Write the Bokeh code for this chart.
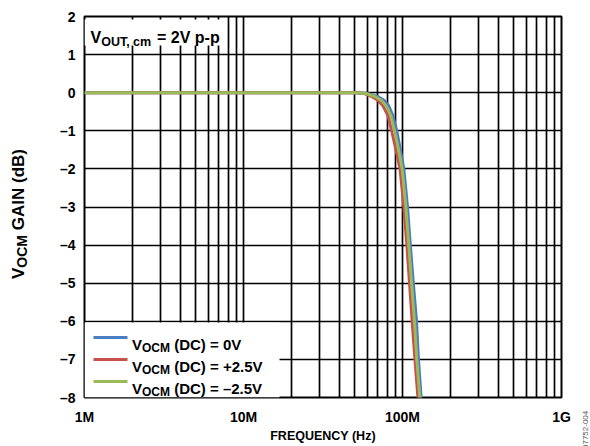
import math

from bokeh.embed import file_html
from bokeh.layouts import row
from bokeh.models import (Arrow, BoxAnnotation, CustomJSTickFormatter, Div, FixedTicker,
                          Label, Range1d)
from bokeh.plotting import figure
from bokeh.resources import INLINE

# ---------------- data ----------------
x_tick_values = [1e6, 1e7, 1e8, 1e9]
x_tick_labels = ["1M", "10M", "100M", "1G"]
x_minor_ticks = [m * 10 ** e for e in (6, 7, 8) for m in range(2, 10)]

y_tick_values = [-8, -7, -6, -5, -4, -3, -2, -1, 0, 1, 2]
y_tick_labels = ["–8", "–7", "–6", "–5", "–4", "–3", "–2", "–1", "0", "1", "2"]

# VOCM (DC) = 0V
freq_0v = [1e6, 10e6, 30e6, 50e6, 60e6, 70e6, 76.6e6, 82e6, 87e6, 92e6, 97e6,
           102e6, 107.5e6, 112e6, 117e6, 122.5e6, 126e6, 131e6, 134e6]
gain_0v = [0, 0, 0, 0, -0.02, -0.1, -0.2, -0.35, -0.6, -1.0, -1.5,
           -2.0, -3.0, -4.0, -5.0, -6.0, -7.0, -8.0, -8.6]

# VOCM (DC) = +2.5V
freq_p25 = [1e6, 10e6, 30e6, 50e6, 57e6, 64e6, 70e6, 75.5e6, 81e6, 85.5e6, 91e6,
            96.5e6, 102e6, 106.5e6, 110.7e6, 115e6, 119.7e6, 125e6, 128e6]
gain_p25 = [0, 0, 0, 0, -0.02, -0.1, -0.2, -0.35, -0.6, -1.0, -1.5,
            -2.0, -3.0, -4.0, -5.0, -6.0, -7.0, -8.0, -8.6]

# VOCM (DC) = -2.5V
freq_m25 = [1e6, 10e6, 30e6, 50e6, 59e6, 67e6, 73.5e6, 79e6, 84.5e6, 89e6, 94.5e6,
            99.5e6, 105e6, 109.5e6, 114e6, 119e6, 123e6, 128.5e6, 131.5e6]
gain_m25 = [0, 0, 0, 0, -0.02, -0.1, -0.2, -0.35, -0.6, -1.0, -1.5,
            -2.0, -3.0, -4.0, -5.0, -6.0, -7.0, -8.0, -8.6]

series_labels = [" (DC) = 0V", " (DC) = +2.5V", " (DC) = –2.5V"]
series_colors = ["#4a7dc2", "#c8504d", "#9bbb59"]
figure_code = "07752-004"

# ---------------- page geometry (px) ----------------
W, H = 590, 446
FL, FR, FT, FB = 84, 561, 16, 397   # plot frame edges on the page
LEFT_W = 40                         # strip holding the rotated y title
RIGHT_W = 12                        # strip holding the figure code
MAIN_W = W - LEFT_W - RIGHT_W

FONT = "Liberation Sans"

p = figure(width=MAIN_W, height=H, x_axis_type="log",
           x_range=Range1d(1e6, 1e9), y_range=Range1d(-8, 2),
           output_backend="svg", toolbar_location=None, title=None,
           min_border_left=FL - LEFT_W, min_border_right=LEFT_W + MAIN_W - FR,
           min_border_top=FT, min_border_bottom=H - FB)

p.outline_line_color = "black"
p.outline_line_width = 2
p.background_fill_color = "white"
p.border_fill_color = "white"

p.xaxis.ticker = FixedTicker(ticks=x_tick_values, minor_ticks=x_minor_ticks)
p.xaxis.formatter = CustomJSTickFormatter(
    args=dict(vals=x_tick_values, labs=x_tick_labels),
    code="""
const i = vals.findIndex(v => Math.abs(Math.log10(v) - Math.log10(tick)) < 1e-6);
return i >= 0 ? labs[i] : "";
""")
p.yaxis.ticker = FixedTicker(ticks=y_tick_values)
p.yaxis.formatter = CustomJSTickFormatter(
    args=dict(vals=y_tick_values, labs=y_tick_labels),
    code="""
const i = vals.findIndex(v => Math.abs(v - tick) < 1e-6);
return i >= 0 ? labs[i] : "";
""")

for ax in (p.xaxis, p.yaxis):
    ax.axis_line_color = None
    ax.major_tick_in = 0
    ax.major_tick_out = 0
    ax.minor_tick_in = 0
    ax.minor_tick_out = 0
    ax.major_label_text_font = FONT
    ax.major_label_text_font_style = "bold"
    ax.major_label_text_font_size = "14px"
    ax.major_label_text_color = "black"
p.xaxis.major_label_standoff = 11
p.yaxis.major_label_standoff = 9

p.xaxis.axis_label = "FREQUENCY (Hz)"
p.xaxis.axis_label_text_font = FONT
p.xaxis.axis_label_text_font_style = "bold"
p.xaxis.axis_label_text_font_size = "12.5px"
p.xaxis.axis_label_text_color = "black"
p.xaxis.axis_label_standoff = 1

p.xgrid.grid_line_color = "black"
p.xgrid.grid_line_width = 1.7
p.xgrid.minor_grid_line_color = "black"
p.xgrid.minor_grid_line_width = 1.7
p.ygrid.grid_line_color = "black"
p.ygrid.grid_line_width = 1.7

# ---------------- curves ----------------
for fx_, gy_, col in ((freq_0v, gain_0v, series_colors[0]),
                      (freq_p25, gain_p25, series_colors[1]),
                      (freq_m25, gain_m25, series_colors[2])):
    p.line(fx_, gy_, line_color=col, line_width=3, line_join="round")


# ---------------- text helpers ----------------
def dx(px):
    return 10 ** (6 + 3 * (px - FL) / (FR - FL))


def dy(py):
    return 2 - 10 * (py - FT) / (FB - FT)


ADV = {' ': 278, '(': 333, ')': 333, ',': 278, '-': 333, '.': 278, '=': 584,
       '+': 584, '–': 556, 'A': 722, 'B': 722, 'C': 722, 'D': 722, 'E': 667,
       'F': 611, 'G': 778, 'H': 722, 'I': 278, 'M': 833, 'N': 722, 'O': 778,
       'Q': 778, 'R': 722, 'T': 611, 'U': 722, 'V': 667, 'Y': 667, 'c': 556,
       'd': 611, 'm': 889, 'p': 611, 'z': 500}


def text_width(s, size):
    return sum(ADV.get(ch, 556) for ch in s) * size / 1000.0


def styled(target, lab, size, bold=True, color="black", align="left"):
    lab.text_font = FONT
    lab.text_font_style = "bold" if bold else "normal"
    lab.text_font_size = f"{size}px"
    lab.text_color = color
    lab.text_align = align
    lab.text_baseline = "alphabetic"
    target.add_layout(lab)


def rich_text(target, pieces, px, py, to_x, to_y, rotated=False):
    """Draw a run of bold text pieces (text, size, drop) one after another."""
    for txt, size, drop in pieces:
        lead = len(txt) - len(txt.lstrip(" "))
        adv0 = text_width(" " * lead, size)
        txt = txt.lstrip(" ")
        if rotated:
            py -= adv0
            cx, cy = px + drop, py
            py -= text_width(txt, size)
        else:
            px += adv0
            cx, cy = px, py + drop
            px += text_width(txt, size)
        lab = Label(x=to_x(cx), y=to_y(cy), text=txt)
        if rotated:
            lab.angle = math.pi / 2
        styled(target, lab, size)


# condition box, top left
p.add_layout(BoxAnnotation(left=dx(FL), right=dx(223), top=dy(19), bottom=dy(45),
                           fill_color="white", fill_alpha=1, line_color=None))
rich_text(p, [("V", 16, 0), ("OUT, cm", 12.5, 4), (" = 2V p-p", 16, 0)],
          90, 37, dx, dy)

# legend, bottom left
p.add_layout(BoxAnnotation(left=dx(FL), right=dx(279), top=dy(322), bottom=dy(FB),
                           fill_color="white", fill_alpha=1, line_color=None))
for i, (lbl, col) in enumerate(zip(series_labels, series_colors)):
    ly = 337 + 22 * i
    p.add_layout(Arrow(x_start=dx(93), y_start=dy(ly), x_end=dx(127), y_end=dy(ly),
                       end=None, line_color=col, line_width=3))
    rich_text(p, [("V", 15, 0), ("OCM", 12, 3.5), (lbl, 15, 0)], 131.5, ly + 6.5, dx, dy)

# y-axis title (rotated) in a bare left panel; the row lines its frame up with
# the main frame, so its data space is the page's pixel grid between FT and FB
p_left = figure(width=LEFT_W, height=H, x_range=Range1d(0, LEFT_W),
                y_range=Range1d(FB, FT), output_backend="svg", title=None,
                toolbar_location=None, x_axis_location=None, y_axis_location=None,
                min_border=0)
p_left.grid.visible = False
p_left.outline_line_color = None
p_left.background_fill_color = "white"
p_left.border_fill_color = "white"

ytitle = [("V", 17, 0), ("OCM", 14, 3.5), (" GAIN (dB)", 17, 0)]
ylen = sum(text_width(t, s) for t, s, _ in ytitle)
rich_text(p_left, ytitle, 18, 213.5 + ylen / 2, lambda v: v, lambda v: v, rotated=True)

# figure code, running up the right edge
code_div = Div(
    text=(f'<div style="position:absolute;left:3px;top:449px;transform-origin:0 0;'
          f'transform:rotate(-90deg);white-space:nowrap;font-family:\'{FONT}\';'
          f'font-size:8px;line-height:9px;color:#555555;">{figure_code}</div>'),
    width=RIGHT_W, height=H, margin=0, styles={"overflow": "hidden"})

page = row(p_left, p, code_div)

open("out.html", "w").write(file_html(page, INLINE))
